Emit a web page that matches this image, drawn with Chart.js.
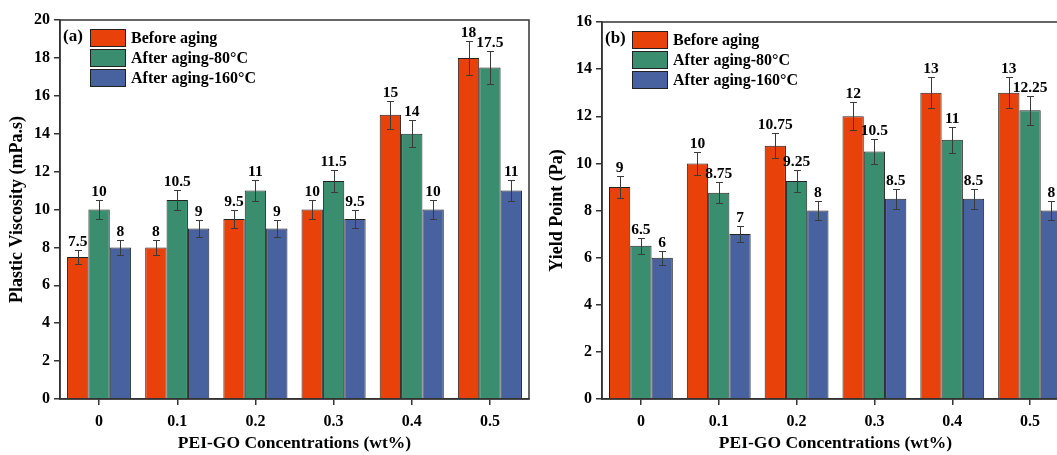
<!DOCTYPE html>
<html>
<head>
<meta charset="utf-8">
<script src="https://cdn.jsdelivr.net/npm/chart.js@4"></script>
<style>
  html, body { margin: 0; padding: 0; background: #fff; width: 1057px; height: 455px; overflow: hidden; }
  canvas { position: absolute; top: 0; }
  #viscosity { left: 0; }
  #yield { left: 540px; }
</style>
</head>
<body>
<canvas id="viscosity" width="535" height="455"></canvas>
<canvas id="yield" width="540" height="455"></canvas>
<script>
// --- DATA ---
const concentrations = ['0', '0.1', '0.2', '0.3', '0.4', '0.5']
const seriesNames = ['Before aging', 'After aging-80°C', 'After aging-160°C']

// (a) Plastic viscosity, mPa.s
const pvBefore = [7.5, 8, 9.5, 10, 15, 18]
const pv80 = [10, 10.5, 11, 11.5, 14, 17.5]
const pv160 = [8, 9, 9, 9.5, 10, 11]
const pvErrBefore = [0.38, 0.4, 0.48, 0.5, 0.75, 0.9]
const pvErr80 = [0.5, 0.53, 0.55, 0.58, 0.7, 0.88]
const pvErr160 = [0.4, 0.45, 0.45, 0.48, 0.5, 0.55]

// (b) Yield point, Pa
const ypBefore = [9, 10, 10.75, 12, 13, 13]
const yp80 = [6.5, 8.75, 9.25, 10.5, 11, 12.25]
const yp160 = [6, 7, 8, 8.5, 8.5, 8]
const ypErrBefore = [0.45, 0.5, 0.54, 0.6, 0.65, 0.65]
const ypErr80 = [0.33, 0.44, 0.46, 0.53, 0.55, 0.61]
const ypErr160 = [0.3, 0.35, 0.4, 0.43, 0.43, 0.4]

// --- STYLE ---
const colors = ['#e8420a', '#3a8e6f', '#47629e']
const serif = "'Liberation Serif', 'Times New Roman', serif"
const axisColor = '#333'

// error bars, value labels, frame, legend and panel tag
const extrasPlugin = {
  id: 'extras',
  afterDatasetsDraw(chart, args, opts) {
    const ctx = chart.ctx
    const area = chart.chartArea
    const yScale = chart.scales.y
    ctx.save()

    chart.data.datasets.forEach((ds, i) => {
      const meta = chart.getDatasetMeta(i)
      meta.data.forEach((bar, j) => {
        const v = ds.data[j]
        const e = opts.errors[i][j]
        const yTop = Math.round(yScale.getPixelForValue(v + e)) + 0.5
        const yBot = Math.round(yScale.getPixelForValue(v - e)) + 0.5
        const x = Math.round(bar.x) + 0.5
        ctx.strokeStyle = '#3a3a3a'
        ctx.lineWidth = 1
        ctx.beginPath()
        ctx.moveTo(x, yTop); ctx.lineTo(x, yBot)
        ctx.moveTo(x - 3.5, yTop); ctx.lineTo(x + 3.5, yTop)
        ctx.moveTo(x - 3.5, yBot); ctx.lineTo(x + 3.5, yBot)
        ctx.stroke()

        ctx.fillStyle = '#000'
        ctx.font = 'bold 15.5px ' + serif
        ctx.textAlign = 'center'
        ctx.textBaseline = 'bottom'
        ctx.fillText(String(v), bar.x, yTop - 1)
      })
    })

    // box frame
    ctx.strokeStyle = axisColor
    ctx.lineWidth = 1.5
    ctx.strokeRect(area.left, area.top, area.right - area.left, area.bottom - area.top)

    // panel tag
    ctx.fillStyle = '#000'
    ctx.font = 'bold 17px ' + serif
    ctx.textAlign = 'left'
    ctx.textBaseline = 'middle'
    ctx.fillText(opts.tag, area.left + 3, area.top + 17)

    // legend
    chart.data.datasets.forEach((ds, i) => {
      const bx = area.left + 30
      const by = area.top + 9 + i * 20
      ctx.fillStyle = ds.backgroundColor
      ctx.fillRect(bx, by, 36, 18)
      ctx.strokeStyle = '#222'
      ctx.lineWidth = 1
      ctx.strokeRect(bx + 0.5, by + 0.5, 35, 17)
      ctx.fillStyle = '#000'
      ctx.font = 'bold 16px ' + serif
      ctx.fillText(ds.label, bx + 41, by + 10)
    })
    ctx.restore()
  }
}

function makeChart(id, series, errors, yMax, yTitle, tag, padding, yWidth) {
  const ctx = document.getElementById(id).getContext('2d')
  return new Chart(ctx, {
    type: 'bar',
    data: {
      labels: concentrations,
      datasets: series.map((data, i) => ({
        label: seriesNames[i],
        data: data,
        backgroundColor: colors[i],
        borderColor: '#222',
        borderWidth: 1,
        barPercentage: 1,
        categoryPercentage: 0.82
      }))
    },
    options: {
      responsive: false,
      animation: false,
      layout: { padding: padding },
      plugins: {
        legend: { display: false },
        tooltip: { enabled: false },
        extras: { errors: errors, tag: tag }
      },
      scales: {
        x: {
          afterFit: s => { s.height = 56 },
          grid: { display: true, drawOnChartArea: false, drawTicks: true, tickLength: 6, offset: false, color: axisColor, lineWidth: 1.5 },
          border: { display: true, color: axisColor, width: 1.5 },
          ticks: { color: '#000', padding: 7, font: { family: serif, size: 16, weight: 'bold' } },
          title: {
            display: true,
            text: 'PEI-GO Concentrations (wt%)',
            color: '#000',
            padding: { top: 0, bottom: 1 },
            font: { family: serif, size: 17.5, weight: 'bold' }
          }
        },
        y: {
          min: 0,
          max: yMax,
          afterFit: s => { s.width = yWidth },
          grid: { display: true, drawOnChartArea: false, drawTicks: true, tickLength: 6, color: axisColor, lineWidth: 1.5 },
          border: { display: true, color: axisColor, width: 1.5 },
          ticks: { stepSize: 2, color: '#000', padding: 4, font: { family: serif, size: 16, weight: 'bold' } },
          title: {
            display: true,
            text: yTitle,
            color: '#000',
            padding: { top: 7, bottom: 0 },
            font: { family: serif, size: 18, weight: 'bold' }
          }
        }
      }
    },
    plugins: [extrasPlugin]
  })
}

makeChart('viscosity', [pvBefore, pv80, pv160], [pvErrBefore, pvErr80, pvErr160],
  20, 'Plastic Viscosity (mPa.s)', '(a)', { left: 0, right: 6, top: 20, bottom: 0 }, 60)

makeChart('yield', [ypBefore, yp80, yp160], [ypErrBefore, ypErr80, ypErr160],
  16, 'Yield Point (Pa)', '(b)', { left: 0, right: 11, top: 22, bottom: 0 }, 62)
</script>
</body>
</html>
